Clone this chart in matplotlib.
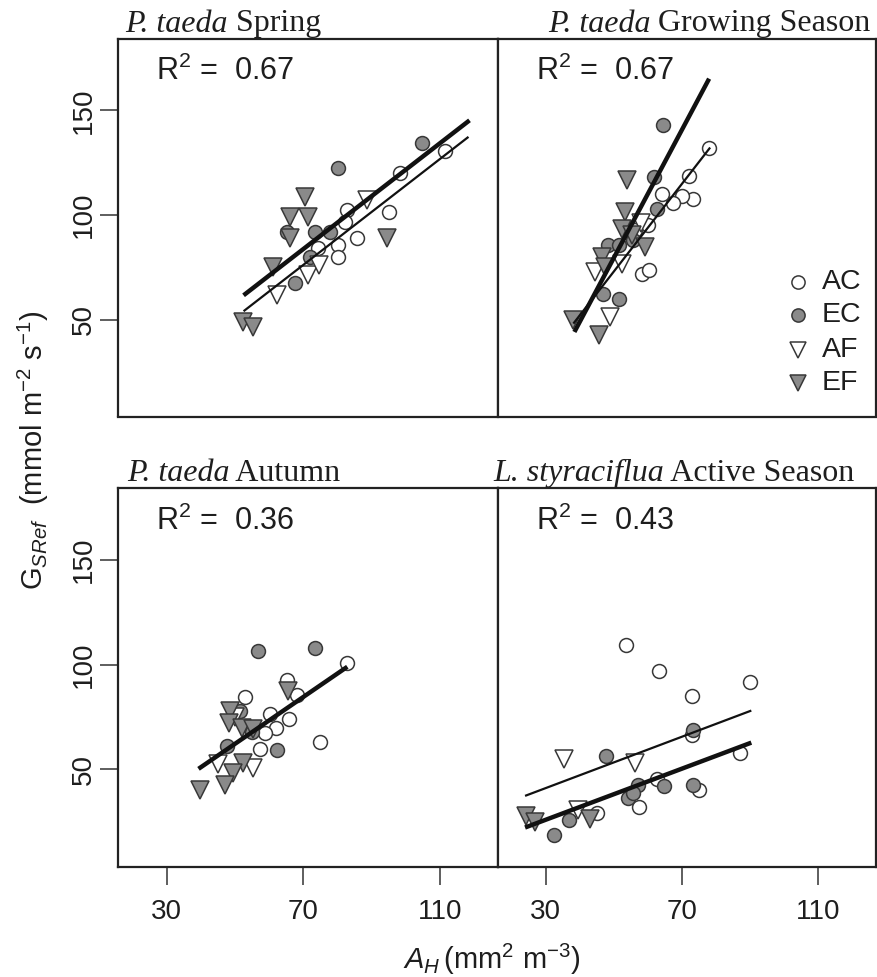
import matplotlib
matplotlib.use('Agg')
import matplotlib.pyplot as plt

W, H, DPI = 877, 977, 100

plt.rcParams['font.family'] = ['Liberation Sans', 'DejaVu Sans']
plt.rcParams['mathtext.fontset'] = 'custom'
plt.rcParams['mathtext.rm'] = 'Liberation Sans'
plt.rcParams['mathtext.it'] = 'Liberation Sans:italic'
plt.rcParams['mathtext.bf'] = 'Liberation Sans:bold'

# ---------------- data ----------------
title_italic = ['P. taeda', 'P. taeda', 'P. taeda', 'L. styraciflua']
title_rest = [' Spring', ' Growing Season', ' Autumn', ' Active Season']
r2_labels = ['0.67', '0.67', '0.36', '0.43']
groups = ['AC', 'EC', 'AF', 'EF']
x_ticks = [30, 70, 110]
y_ticks = [50, 100, 150]

spring_g = ['AC'] * 9 + ['EC'] * 7 + ['AF'] * 4 + ['EF'] * 8
spring_x = [111.5, 98.4, 95.2, 82.7, 82.3, 85.7, 80.3, 80.3, 74.4,
            104.7, 80.3, 65.2, 73.5, 77.9, 67.6, 72.0,
            88.6, 62.2, 71.5, 74.5,
            70.5, 66.1, 71.5, 66.1, 94.5, 61.2, 52.4, 55.4]
spring_y = [130.6, 119.9, 101.4, 102.4, 96.8, 88.8, 85.6, 80.1, 84.1,
            134.4, 122.3, 92.0, 92.0, 92.0, 67.3, 80.1,
            107.1, 61.8, 71.3, 76.0,
            108.7, 99.2, 99.2, 88.8, 88.8, 75.3, 49.0, 46.6]

growing_g = ['AC'] * 10 + ['EC'] * 8 + ['AF'] * 4 + ['EF'] * 9
growing_x = [78.0, 72.2, 73.3, 70.0, 67.5, 64.1, 58.2, 60.2, 56.3, 60.0,
             64.4, 61.9, 62.6, 48.4, 51.4, 46.9, 51.4, 55.5,
             44.5, 48.9, 52.4, 58.0,
             54.0, 53.3, 52.4, 59.2, 46.5, 38.1, 45.5, 55.3, 47.5]
growing_y = [132.2, 118.5, 107.8, 108.9, 105.7, 110.2, 72.0, 73.6, 92.7, 95.0,
             142.8, 118.2, 103.0, 85.5, 85.5, 62.4, 59.6, 88.0,
             72.8, 51.3, 76.8, 96.0,
             116.6, 101.4, 93.5, 84.7, 79.9, 49.7, 42.5, 90.3, 75.0]

autumn_g = ['AC'] * 10 + ['EC'] * 6 + ['AF'] * 3 + ['EF'] * 9
autumn_x = [82.9, 65.2, 53.0, 60.1, 65.7, 61.9, 58.8, 57.3, 74.9, 68.1,
            56.6, 73.5, 62.2, 47.6, 51.5, 55.0,
            45.1, 55.4, 50.0,
            65.6, 48.6, 48.1, 52.0, 52.3, 49.5, 47.1, 39.6, 55.4]
autumn_y = [100.6, 92.7, 84.7, 76.3, 74.2, 69.6, 67.5, 59.9, 63.1, 85.4,
            106.5, 108.1, 59.1, 61.1, 77.9, 68.0,
            52.4, 50.8, 75.0,
            87.4, 77.9, 72.3, 69.9, 53.2, 48.4, 42.4, 40.4, 69.1]

active_g = ['AC'] * 10 + ['EC'] * 9 + ['AF'] * 3 + ['EF'] * 3
active_x = [53.6, 63.4, 72.9, 90.1, 72.9, 87.0, 62.6, 75.1, 57.3, 45.0,
            47.7, 73.2, 57.1, 64.6, 73.2, 54.3, 55.7, 36.7, 32.3,
            35.4, 56.3, 39.6,
            24.1, 26.9, 43.0]
active_y = [109.4, 97.1, 85.2, 91.5, 66.3, 57.9, 45.3, 40.2, 32.3, 29.1,
            56.4, 68.7, 42.6, 42.1, 42.6, 36.2, 38.6, 26.0, 18.8,
            54.8, 53.2, 30.7,
            27.9, 24.7, 26.2]

# fitted lines (end points): thick and thin
spring_thick_x, spring_thick_y = [52.5, 118.7], [61.6, 145.2]
spring_thin_x, spring_thin_y = [52.5, 118.4], [54.0, 137.3]
growing_thick_x, growing_thick_y = [38.4, 78.0], [44.1, 165.1]
growing_thin_x, growing_thin_y = [38.1, 78.3], [48.1, 132.2]
autumn_thick_x, autumn_thick_y = [39.3, 82.9], [50.3, 99.0]
autumn_thin_x, autumn_thin_y = [], []
active_thick_x, active_thick_y = [23.9, 90.4], [22.3, 62.8]
active_thin_x, active_thin_y = [23.9, 90.4], [37.4, 78.1]

# ---------------- styling ----------------
GREY = '#8a8a8a'
EDGE = '#383838'
INK = '#1e1e1e'
style = {
    'AC': dict(marker='o', fc='white', ms=10),
    'EC': dict(marker='o', fc=GREY, ms=10),
    'AF': dict(marker='v', fc='white', ms=12.5),
    'EF': dict(marker='v', fc=GREY, ms=12.5),
}

fig = plt.figure(figsize=(W / DPI, H / DPI), dpi=DPI)
fig.patch.set_facecolor('white')


def add_ax(x0, x1, y0, y1):
    return fig.add_axes([x0 / W, 1 - y1 / H, (x1 - x0) / W, (y1 - y0) / H])


XL, XM, XR = 118.3, 497.5, 875.5
YT0, YT1, YB0, YB1 = 38.5, 416.5, 488.0, 866.5
boxes = [(XL, XM, YT0, YT1), (XM, XR, YT0, YT1),
         (XL, XM, YB0, YB1), (XM, XR, YB0, YB1)]
title_x = [125, 548, 127, 493]

panels = [
    (spring_x, spring_y, spring_g, spring_thick_x, spring_thick_y, spring_thin_x, spring_thin_y),
    (growing_x, growing_y, growing_g, growing_thick_x, growing_thick_y, growing_thin_x, growing_thin_y),
    (autumn_x, autumn_y, autumn_g, autumn_thick_x, autumn_thick_y, autumn_thin_x, autumn_thin_y),
    (active_x, active_y, active_g, active_thick_x, active_thick_y, active_thin_x, active_thin_y),
]

renderer = fig.canvas.get_renderer()
for i, (box, pdata) in enumerate(zip(boxes, panels)):
    ax = add_ax(*box)
    xs, ys, gs, tkx, tky, tnx, tny = pdata
    for g in groups:
        px = [x for x, gg in zip(xs, gs) if gg == g]
        py = [y for y, gg in zip(ys, gs) if gg == g]
        st = style[g]
        ax.plot(px, py, ls='none', marker=st['marker'], ms=st['ms'],
                mfc=st['fc'], mec=EDGE, mew=1.1, zorder=3)
    if tnx:
        ax.plot(tnx, tny, color='#111111', lw=1.6, solid_capstyle='butt', zorder=4)
    if tkx:
        ax.plot(tkx, tky, color='#111111', lw=3.2, solid_capstyle='butt', zorder=5)
    ax.set_xlim(15.8, 126.9)
    ax.set_ylim(3.7, 184.3)
    for sp in ax.spines.values():
        sp.set_linewidth(1.6)
        sp.set_color('#222222')
    ax.tick_params(direction='out', length=13, width=1.1, color='#333333',
                   labelsize=20, labelcolor=INK)
    ax.tick_params(axis='x', pad=10.5)
    ax.tick_params(axis='y', pad=2.5)
    if i in (2, 3):
        ax.set_xticks(x_ticks)
        ax.set_xticklabels([str(t) for t in x_ticks])
    else:
        ax.set_xticks([])
    if i in (0, 2):
        ax.set_yticks(y_ticks)
        ax.set_yticklabels([str(t) for t in y_ticks], rotation=90, va='center')
    else:
        ax.set_yticks([])

    x0, x1, y0, y1 = box
    # R^2 label
    fig.text((x0 + 38) / W, 1 - (y0 + 41.5) / H,
             r'R$^{\mathregular{2}}$ =  ' + r2_labels[i],
             fontsize=22, color=INK, va='baseline', ha='left')
    # panel title: italic species + plain remainder
    t1 = fig.text(title_x[i] / W, 1 - (y0 - 7) / H, title_italic[i],
                  family='Liberation Serif', style='italic', fontsize=23,
                  color=INK, va='baseline', ha='left')
    bb = t1.get_window_extent(renderer=renderer)
    fig.text(bb.x1 / W, 1 - (y0 - 7) / H, title_rest[i],
             family='Liberation Serif', fontsize=23, color=INK,
             va='baseline', ha='left')

# legend in growing-season panel
leg_y = [281.7, 315.0, 350.0, 383.3]
for g, ly in zip(groups, leg_y):
    st = style[g]
    fig.lines.append(plt.Line2D([798 / W], [1 - ly / H], transform=fig.transFigure,
                                ls='none', marker=st['marker'], ms=st['ms'] * 0.95,
                                mfc=st['fc'], mec=EDGE, mew=1.1))
    fig.text(822 / W, 1 - ly / H, g, fontsize=20.5, color=INK,
             va='center', ha='left')

# axis labels
fig.text(33 / W, 1 - 450 / H,
         r'$\mathregular{G}_{\mathit{SRef}}$  (mmol m$^{\mathregular{-2}}$ s$^{\mathregular{-1}}$)',
         rotation=90, fontsize=21, color=INK, ha='center', va='center')
fig.text(492 / W, 1 - 959 / H,
         r'$A_{H}\,$(mm$^{\mathregular{2}}$ m$^{\mathregular{-3}}$)',
         fontsize=21, color=INK, ha='center', va='center')

fig.savefig('out.png', dpi=DPI, facecolor='white')
